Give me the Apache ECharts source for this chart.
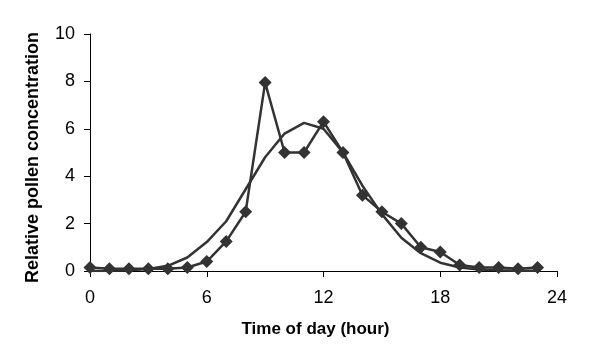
<!DOCTYPE html>
<html><head><meta charset="utf-8">
<script src="https://cdn.jsdelivr.net/npm/echarts@6/dist/echarts.min.js"></script>
<style>html,body{margin:0;padding:0;background:#fff}#c{width:591px;height:357px}</style>
</head><body><div id="c"></div>
<script>
const hours = [0,1,2,3,4,5,6,7,8,9,10,11,12,13,14,15,16,17,18,19,20,21,22,23];
const observed = [0.15,0.1,0.1,0.1,0.1,0.15,0.4,1.25,2.5,7.95,5.0,5.0,6.3,5.0,3.2,2.5,2.0,1.0,0.8,0.25,0.15,0.15,0.1,0.15];
const fitted = [0.0,0.01,0.03,0.08,0.22,0.57,1.22,2.1,3.45,4.8,5.8,6.25,6.0,5.0,3.6,2.4,1.4,0.75,0.35,0.15,0.06,0.03,0.01,0.01];
const xTicks = [0,6,12,18,24];
const yTicks = [0,2,4,6,8,10];
const font = 'Liberation Sans, Arial, sans-serif';
const chart = echarts.init(document.getElementById('c'));
chart.setOption({
  animation:false,
  grid:{left:90,right:34,top:34,bottom:86},
  xAxis:{type:'value',min:0,max:24,interval:6,
    name:'Time of day (hour)',nameLocation:'middle',nameGap:50,
    nameTextStyle:{fontFamily:font,fontWeight:'bold',fontSize:17,color:'#000',padding:[0,16,0,0]},
    axisLine:{lineStyle:{color:'#000',width:1}},
    axisTick:{show:true,length:6,lineStyle:{color:'#000'}},
    axisLabel:{fontFamily:font,fontSize:18,color:'#000',margin:18,formatter:v=>xTicks.includes(v)?String(v):''},
    splitLine:{show:false}},
  yAxis:{type:'value',min:0,max:10,interval:2,
    name:'Relative pollen concentration',nameLocation:'middle',nameGap:48,
    nameTextStyle:{fontFamily:font,fontWeight:'bold',fontSize:18,color:'#000',padding:[0,10,0,0]},
    axisLine:{show:true,lineStyle:{color:'#000',width:1}},
    axisTick:{show:true,length:6,lineStyle:{color:'#000'}},
    axisLabel:{fontFamily:font,fontSize:18,color:'#000',margin:15,formatter:v=>yTicks.includes(v)?String(v):''},
    splitLine:{show:false}},
  series:[
    {type:'line',data:hours.map((h,i)=>[h,fitted[i]]),showSymbol:false,symbol:'none',
     lineStyle:{color:'#333',width:2.5},z:2},
    {type:'line',data:hours.map((h,i)=>[h,observed[i]]),symbol:'diamond',symbolSize:13,
     itemStyle:{color:'#333'},lineStyle:{color:'#333',width:2.5},z:3}
  ]
});
</script></body></html>
